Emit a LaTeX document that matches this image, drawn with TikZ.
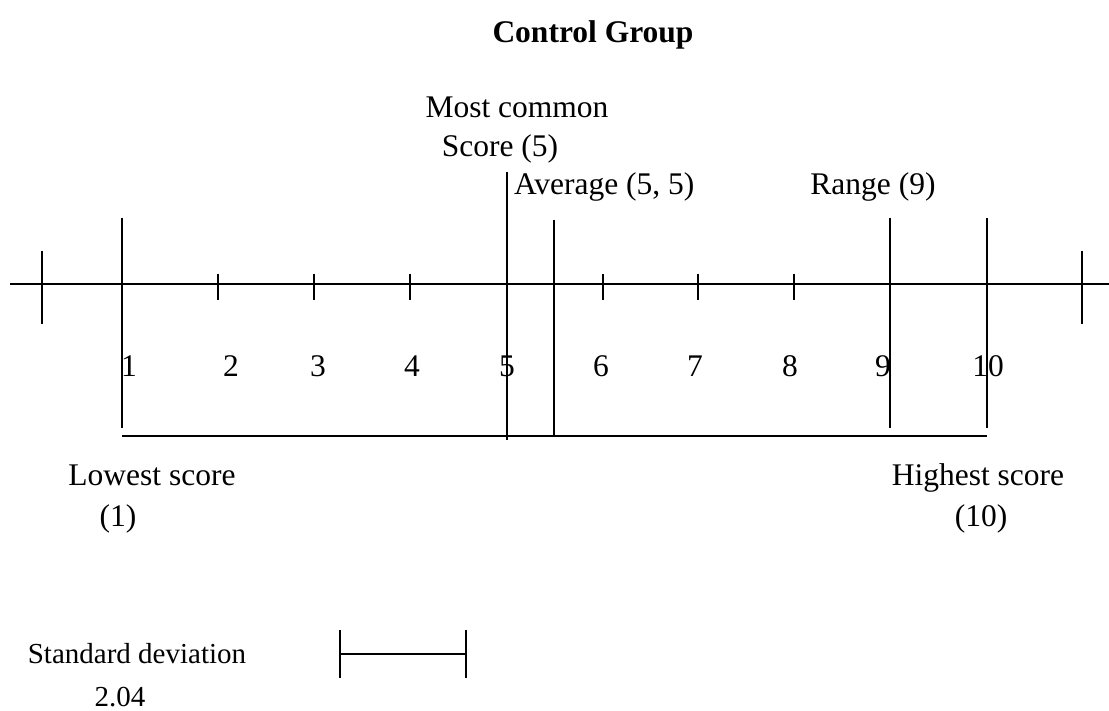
\documentclass[tikz,border=0pt]{standalone}
\usepackage{fontspec}
\setmainfont{Liberation Serif}
\begin{document}
\begin{tikzpicture}[x=1pt,y=-1pt,line width=2pt,
  lbl/.style={inner sep=0pt,anchor=base,font=\fontsize{31.5}{38}\selectfont},
  sdlbl/.style={inner sep=0pt,anchor=base,font=\fontsize{29}{34}\selectfont},
  ttl/.style={inner sep=0pt,anchor=base,font=\fontsize{31.5}{38}\selectfont\bfseries}]
\useasboundingbox (0,0) rectangle (1109,711);
% axis
\coordinate (axL) at (10,284);
\coordinate (axR) at (1109,284);
\draw (axL) -- (axR);
% big end ticks
\coordinate (eLt) at (42,251); \coordinate (eLb) at (42,324);
\coordinate (eRt) at (1082,251); \coordinate (eRb) at (1082,324);
\draw (eLt) -- (eLb);
\draw (eRt) -- (eRb);
% small ticks
\foreach \x [count=\i] in {218,314,410,603,698,794}{
  \coordinate (t\i a) at (\x,274);
  \coordinate (t\i b) at (\x,300);
  \draw (t\i a) -- (t\i b);
}
% long vertical lines
\coordinate (l1t) at (122,218); \coordinate (l1b) at (122,428);
\coordinate (l5t) at (507,172); \coordinate (l5b) at (507,440);
\coordinate (avt) at (554,220); \coordinate (avb) at (554,436);
\coordinate (l9t) at (890,218); \coordinate (l9b) at (890,428);
\coordinate (l10t) at (987,218); \coordinate (l10b) at (987,428);
\draw (l1t) -- (l1b);
\draw (l5t) -- (l5b);
\draw (avt) -- (avb);
\draw (l9t) -- (l9b);
\draw (l10t) -- (l10b);
% bottom range line
\coordinate (bL) at (122,436); \coordinate (bR) at (987,436);
\draw (bL) -- (bR);
% standard deviation bar
\coordinate (sdL) at (340,654); \coordinate (sdR) at (466,654);
\coordinate (sdLt) at (340,630); \coordinate (sdLb) at (340,678);
\coordinate (sdRt) at (466,630); \coordinate (sdRb) at (466,678);
\draw (sdL) -- (sdR);
\draw (sdLt) -- (sdLb);
\draw (sdRt) -- (sdRb);
% texts
\node[ttl] (title) at (593,43) {Control Group};
\node[lbl] (mc1) at (517,118) {Most common};
\node[lbl] (mc2) at (500,157) {Score (5)};
\node[lbl,anchor=base west] (avg) at (513,195) {Average (5, 5)};
\node[lbl] (rng) at (873,195) {Range (9)};
\foreach \x/\t [count=\i] in {129/1,231/2,318/3,412/4,507/5,601/6,695/7,790/8,883/9,988/10}{
  \node[lbl] (n\i) at (\x,377) {\t};
}
\node[lbl] (low1) at (152,485) {Lowest score};
\node[lbl] (low2) at (118,526) {(1)};
\node[lbl] (high1) at (978,485) {Highest score};
\node[lbl] (high2) at (981,526) {(10)};
\node[sdlbl] (sd1) at (137,663) {Standard deviation};
\node[sdlbl] (sd2) at (120,706) {2.04};
\end{tikzpicture}
\end{document}
